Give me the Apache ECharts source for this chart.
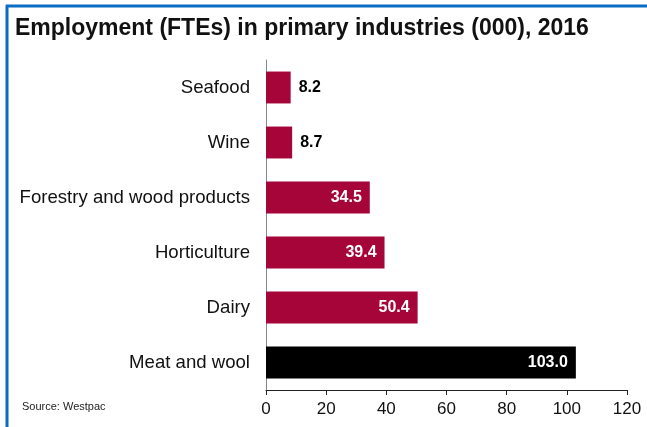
<!DOCTYPE html>
<html>
<head>
<meta charset="utf-8">
<script src="https://cdn.jsdelivr.net/npm/echarts@6/dist/echarts.min.js"></script>
<style>
  html, body { margin: 0; padding: 0; background: #fff; }
  #chart { width: 647px; height: 427px; }
</style>
</head>
<body>
<div id="chart"></div>
<script>
// Industries, listed bottom to top as the category axis draws them
const industries = ['Meat and wool', 'Dairy', 'Horticulture', 'Forestry and wood products', 'Wine', 'Seafood'];
// Full-time equivalents, thousands
const fteThousands = [103.0, 50.4, 39.4, 34.5, 8.7, 8.2];
const xTicks = [0, 20, 40, 60, 80, 100, 120];

const crimson = '#A6053A';
const highlight = 'Meat and wool';
const font = 'Liberation Sans, Arial, sans-serif';

const chart = echarts.init(document.getElementById('chart'), null, { renderer: 'canvas' });

const barData = fteThousands.map((v, i) => {
  const small = v < 20;
  return {
    value: v,
    itemStyle: { color: industries[i] === highlight ? '#000' : crimson },
    label: {
      show: true,
      position: small ? 'right' : 'insideRight',
      distance: 8,
      color: small ? '#000' : '#fff',
      fontWeight: 'bold',
      fontSize: 16,
      fontFamily: font,
      formatter: p => p.value.toFixed(1)
    }
  };
});

chart.setOption({
  animation: false,
  backgroundColor: '#fff',
  title: {
    text: 'Employment (FTEs) in primary industries (000), 2016',
    left: 10,
    top: 12,
    textStyle: {
      fontFamily: font,
      fontWeight: 'bold',
      fontSize: 23,
      color: '#111'
    }
  },
  graphic: [
    { type: 'line', shape: { x1: 6, y1: 6, x2: 647, y2: 6 }, style: { stroke: '#0A6CC4', lineWidth: 3 } },
    { type: 'line', shape: { x1: 7, y1: 5, x2: 7, y2: 427 }, style: { stroke: '#0A6CC4', lineWidth: 3 } },
    {
      type: 'text', left: 22, top: 401,
      style: { text: 'Source: Westpac', font: '11px Liberation Sans, Arial, sans-serif', fill: '#222' }
    }
  ],
  grid: { left: 266, right: 20, top: 60, bottom: 37, containLabel: false },
  xAxis: {
    type: 'value',
    min: xTicks[0],
    max: xTicks[xTicks.length - 1],
    interval: xTicks[1] - xTicks[0],
    axisLine: { show: true, lineStyle: { color: '#222', width: 1 } },
    axisTick: { show: true, length: 5, lineStyle: { color: '#222' } },
    splitLine: { show: false },
    axisLabel: {
      fontFamily: font,
      fontSize: 17,
      color: '#111',
      margin: 11
    }
  },
  yAxis: {
    type: 'category',
    data: industries,
    axisLine: { show: true, lineStyle: { color: '#888', width: 1 } },
    axisTick: { show: false },
    axisLabel: {
      fontFamily: font,
      fontSize: 18.6,
      color: '#111',
      margin: 16
    }
  },
  series: [{
    type: 'bar',
    data: barData,
    barCategoryGap: '42%'
  }]
});
</script>
</body>
</html>
